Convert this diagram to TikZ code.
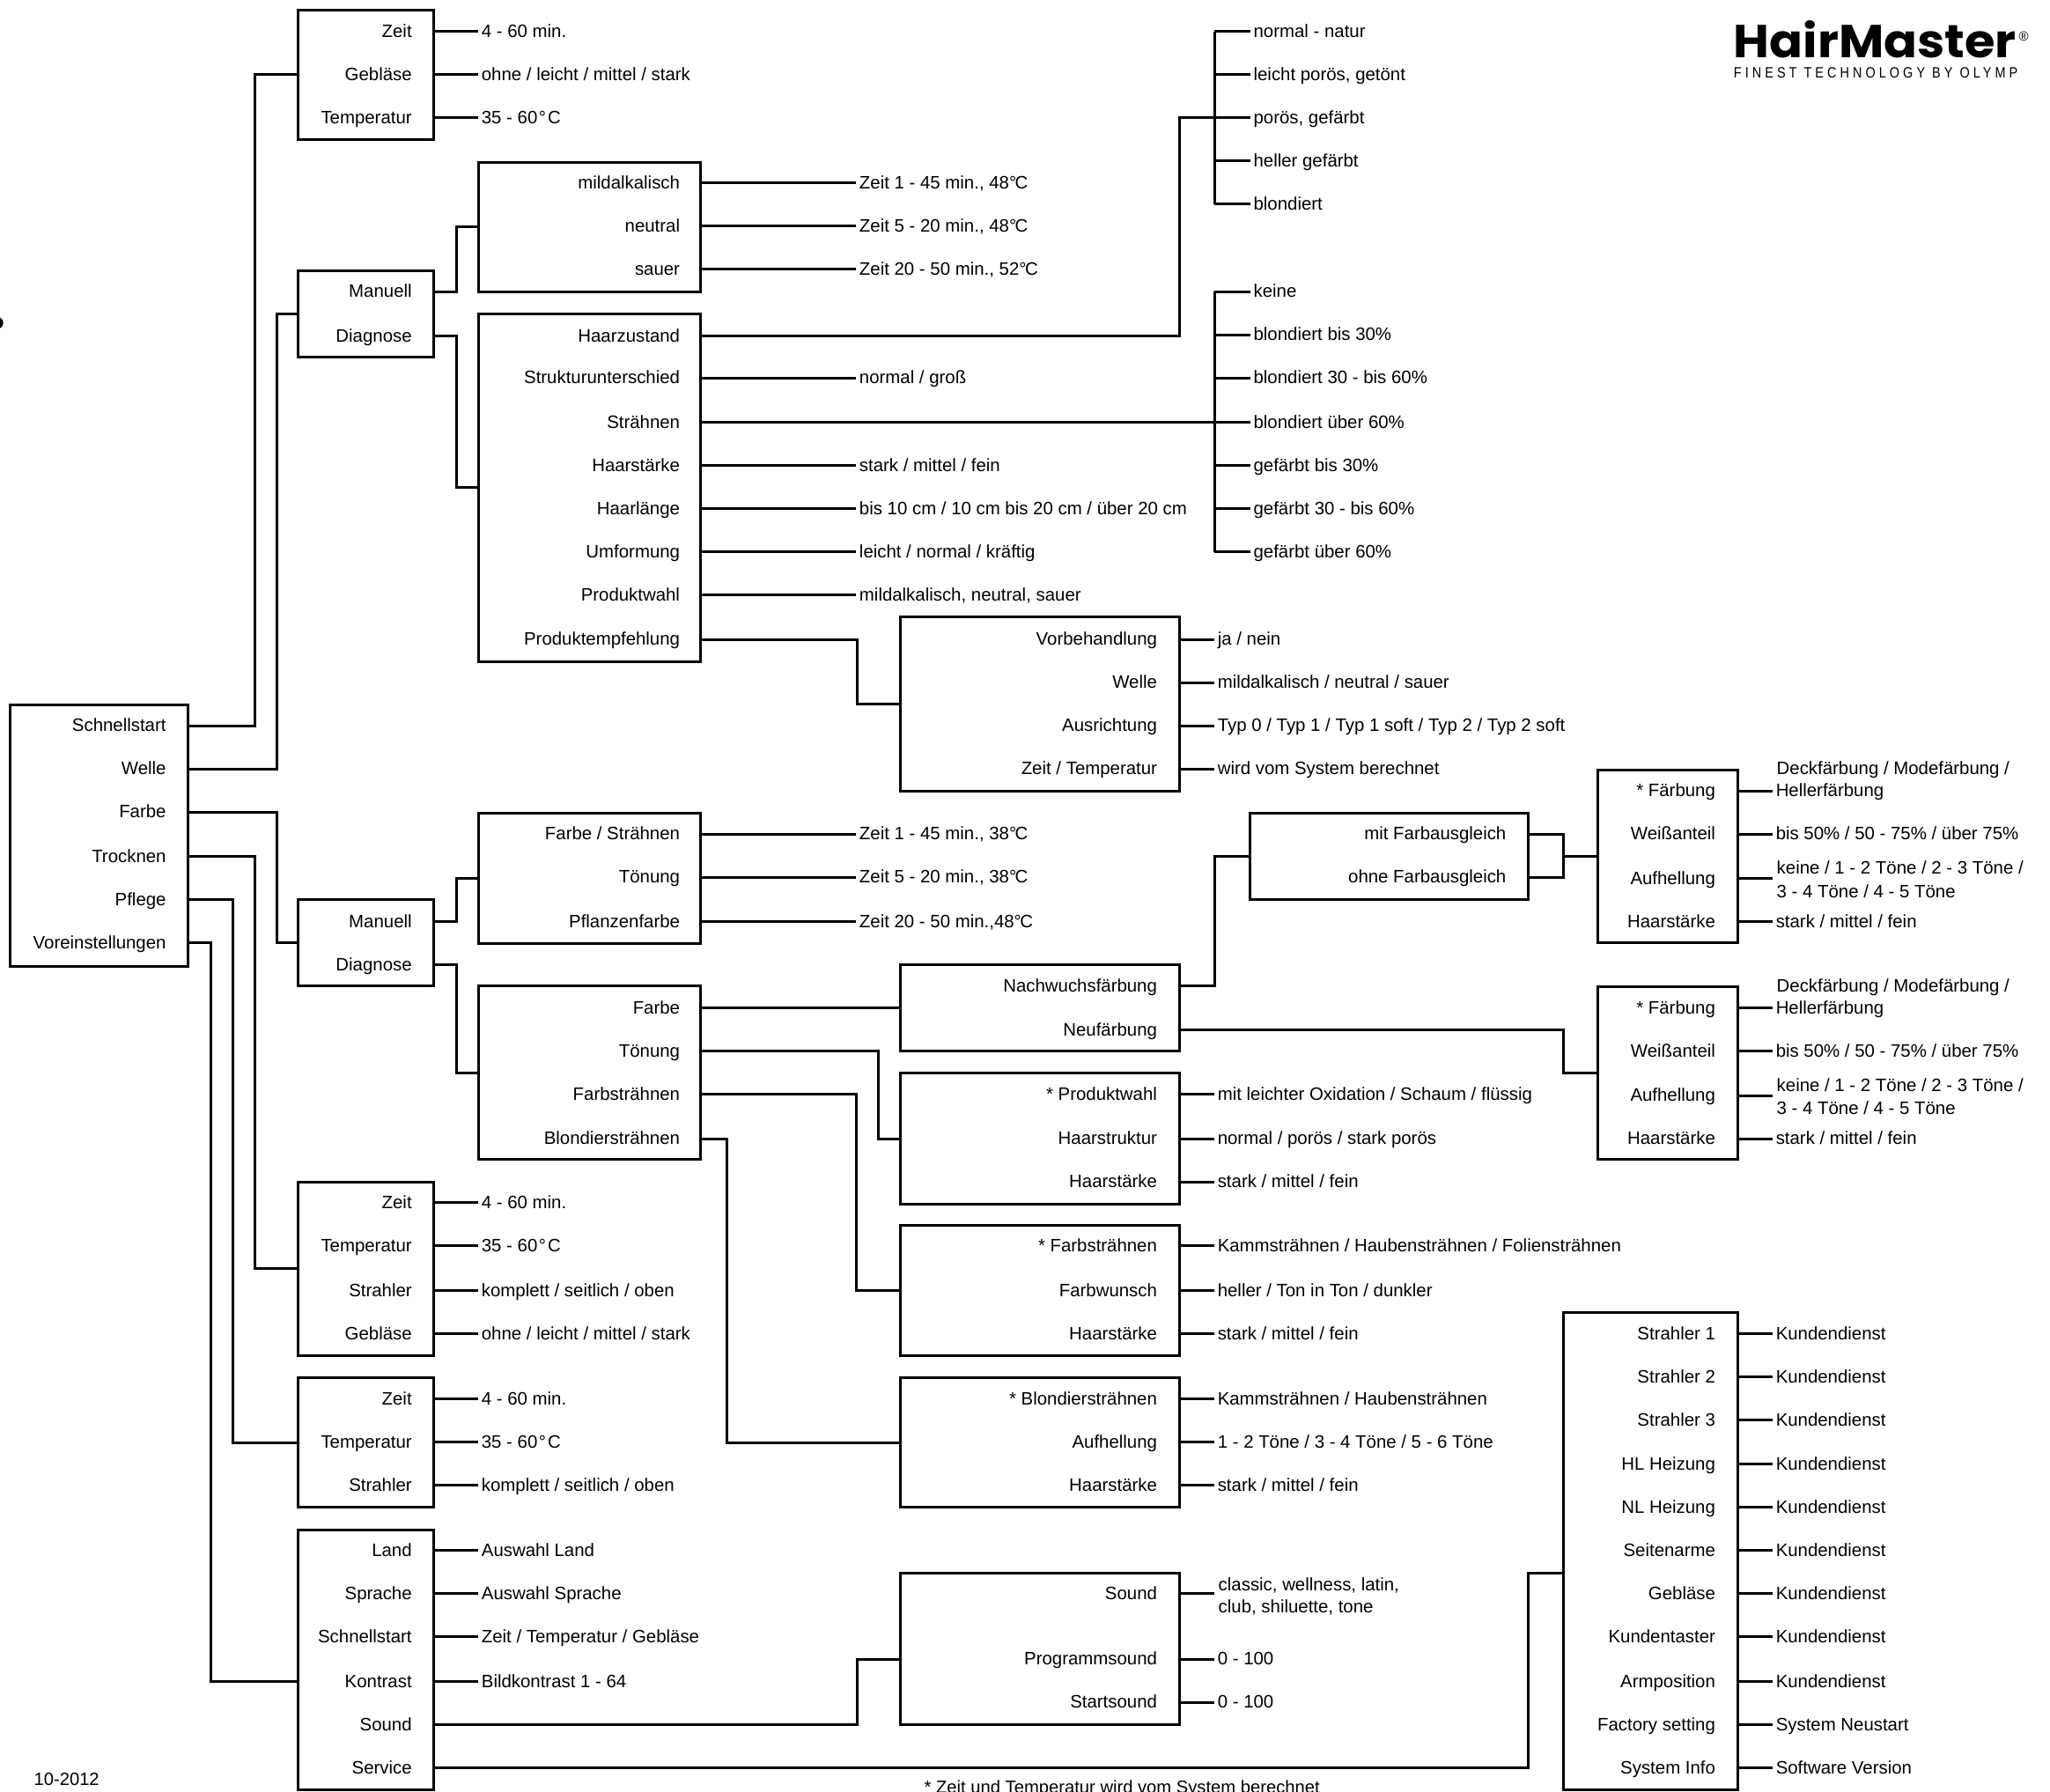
\documentclass[tikz,border=0pt]{standalone}
\usepackage{fontspec}
\usepackage{graphicx}
\setmainfont{Liberation Sans}
\newfontfamily\logofont{Poppins}
\usetikzlibrary{fit,calc}
\tikzset{
  base/.style={inner sep=0pt,outer sep=0pt,font=\fontsize{20.4}{24}\selectfont,text height=15pt,text depth=1.6pt},
  lbl/.style={base,anchor=east},
  vlu/.style={base,anchor=west,inner xsep=3.5pt},
  plain/.style={base,anchor=west,inner xsep=0pt},
  boxs/.style={draw,rectangle,line width=3pt,inner sep=0pt,outer sep=0pt,line join=miter},
  conn/.style={line width=3pt,line cap=butt,line join=miter},
}
\newcommand{\bx}[5]{\path (#2,#3) coordinate (#1a) (#4,#5) coordinate (#1b);
  \node[boxs,fit=(#1a)(#1b)] (#1) {};}
\newcommand{\lab}[3]{\node[lbl] (#1) at (\lx,#2) {#3};}
\newcommand{\itm}[5]{\node[lbl] (#1#2) at (\lx,#3) {#4};
  \node[vlu] (#1#2v) at (\vx,#3) {#5};
  \draw[conn] (#1.east |- #1#2) -- (#1#2v.west);}
\newcommand{\dgs}{\kern1.5pt°\kern2pt}
\newcommand{\degc}{°\kern-1.5pt C}
\begin{document}
\begin{tikzpicture}[x=1.4847pt,y=-1.4847pt]
\useasboundingbox (0,0) rectangle (1568,1370);
\fill (-2,247) circle (4.5);

% logo
\node[anchor=north west,inner sep=0pt,outer sep=0pt] (logo) at (1326,15.5) {\resizebox{321pt}{42pt}{\logofont\bfseries HairMaster}};
\node[anchor=west,inner sep=0pt,font=\fontsize{15}{16}\selectfont] (logor) at (1544,28) {®};
\node[anchor=west,inner sep=0pt,font=\fontsize{17}{18}\selectfont] (logot) at (1326,55.5) {\scalebox{.85}[1]{\addfontfeatures{LetterSpace=28}FINEST TECHNOLOGY BY OLYMP}};

% main menu
\def\lx{127}
\bx{M}{8}{539}{144}{739}
\lab{Mss}{555}{Schnellstart}
\lab{Mwe}{588}{Welle}
\lab{Mfa}{621}{Farbe}
\lab{Mtr}{655}{Trocknen}
\lab{Mpf}{688}{Pflege}
\lab{Mvo}{721}{Voreinstellungen}

% Schnellstart
\def\lx{315}\def\vx{366}
\bx{A}{228}{8}{332}{107}
\itm{A}{z}{24}{Zeit}{4 - 60 min.}
\itm{A}{g}{57}{Gebläse}{ohne / leicht / mittel / stark}
\itm{A}{t}{90}{Temperatur}{35 - 60\dgs C}
\draw[conn] (M.east |- Mss) -- (195,0 |- Mss) -- (195,0 |- Ag) -- (A.west |- Ag);

% Welle
\bx{B}{228}{207}{332}{273}
\lab{Bm}{223}{Manuell}
\lab{Bd}{257}{Diagnose}
\draw[conn] (M.east |- Mwe) -- (212,0 |- Mwe) -- (212,0 |- B.west) -- (B.west);

\def\lx{520}\def\vx{655}
\bx{C}{366}{124}{536}{223}
\itm{C}{a}{140}{mildalkalisch}{Zeit 1 - 45 min., 48\degc}
\itm{C}{b}{173}{neutral}{Zeit 5 - 20 min., 48\degc}
\itm{C}{c}{206}{sauer}{Zeit 20 - 50 min., 52\degc}
\draw[conn] (B.east |- Bm) -- (349,0 |- Bm) -- (349,0 |- C.west) -- (C.west);

\bx{D}{366}{240}{536}{506}
\lab{Dz}{257}{Haarzustand}
\itm{D}{s}{289}{Strukturunterschied}{normal / groß}
\lab{Dt}{323}{Strähnen}
\itm{D}{h}{356}{Haarstärke}{stark / mittel / fein}
\itm{D}{l}{389}{Haarlänge}{bis 10 cm / 10 cm bis 20 cm / über 20 cm}
\itm{D}{u}{422}{Umformung}{leicht / normal / kräftig}
\itm{D}{p}{455}{Produktwahl}{mildalkalisch, neutral, sauer}
\lab{De}{489}{Produktempfehlung}
\draw[conn] (B.east |- Bd) -- (349,0 |- Bd) -- (349,0 |- D.west) -- (D.west);

% Haarzustand tree
\foreach \n/\y/\t in {a/24/normal - natur,b/57/{leicht porös, getönt},c/90/{porös, gefärbt},d/123/heller gefärbt,e/156/blondiert}{
  \node[vlu] (Z\n) at (956.5,\y) {\t};
  \draw[conn] (929,\y) -- (Z\n.west);
}
\draw[conn] (929,0 |- Za) -- (929,0 |- Ze);
\draw[conn] (D.east |- Dz) -- (902,0 |- Dz) -- (902,0 |- Zc) -- (929,0 |- Zc);

% Strähnen tree
\foreach \n/\y/\t in {a/223/keine,b/256/blondiert bis 30\%,c/289/blondiert 30 - bis 60\%,d/323/blondiert über 60\%,e/356/gefärbt bis 30\%,f/389/gefärbt 30 - bis 60\%,g/422/gefärbt über 60\%}{
  \node[vlu] (Y\n) at (956.5,\y) {\t};
  \draw[conn] (929,\y) -- (Y\n.west);
}
\draw[conn] (929,0 |- Ya) -- (929,0 |- Yg);
\draw[conn] (D.east |- Dt) -- (Yd.west);

% Produktempfehlung
\def\lx{885}\def\vx{929}
\bx{E}{689}{472}{902}{605}
\itm{E}{a}{489}{Vorbehandlung}{ja / nein}
\itm{E}{b}{522}{Welle}{mildalkalisch / neutral / sauer}
\itm{E}{c}{555}{Ausrichtung}{Typ 0 / Typ 1 / Typ 1 soft / Typ 2 / Typ 2 soft}
\itm{E}{d}{588}{Zeit / Temperatur}{wird vom System berechnet}
\draw[conn] (D.east |- De) -- (656,0 |- De) -- (656,0 |- E.west) -- (E.west);

% Farbe
\def\lx{315}
\bx{F}{228}{688}{332}{754}
\lab{Fm}{705}{Manuell}
\lab{Fd}{738}{Diagnose}
\draw[conn] (M.east |- Mfa) -- (212,0 |- Mfa) -- (212,0 |- F.west) -- (F.west);

\def\lx{520}\def\vx{655}
\bx{G}{366}{622}{536}{722}
\itm{G}{a}{638}{Farbe / Strähnen}{Zeit 1 - 45 min., 38\degc}
\itm{G}{b}{671}{Tönung}{Zeit 5 - 20 min., 38\degc}
\itm{G}{c}{705}{Pflanzenfarbe}{Zeit 20 - 50 min.,48\degc}
\draw[conn] (F.east |- Fm) -- (349,0 |- Fm) -- (349,0 |- G.west) -- (G.west);

\bx{H}{366}{754}{536}{887}
\lab{Ha}{771}{Farbe}
\lab{Hb}{804}{Tönung}
\lab{Hc}{837}{Farbsträhnen}
\lab{Hd}{871}{Blondiersträhnen}
\draw[conn] (F.east |- Fd) -- (349,0 |- Fd) -- (349,0 |- H.west) -- (H.west);

\def\lx{885}
\bx{I}{689}{738}{902}{804}
\lab{In}{754}{Nachwuchsfärbung}
\lab{If}{788}{Neufärbung}
\draw[conn] (H.east |- Ha) -- (I.west |- Ha);

\def\lx{1152}
\bx{J}{956}{622}{1169}{688}
\lab{Jm}{638}{mit Farbausgleich}
\lab{Jo}{671}{ohne Farbausgleich}
\draw[conn] (I.east |- In) -- (929,0 |- In) -- (929,0 |- J.west) -- (J.west);

\def\lx{1312}\def\vx{1356}
\bx{K}{1222}{589}{1329}{721}
\lab{Kf}{605}{* Färbung}
\node[plain] (Kf0) at (1359,588) {Deckfärbung / Modefärbung /};
\node[vlu] (Kfv) at (1356,605) {Hellerfärbung};
\draw[conn] (K.east |- Kf) -- (Kfv.west);
\itm{K}{w}{638}{Weißanteil}{bis 50\% / 50 - 75\% / über 75\%}
\lab{Ka}{672}{Aufhellung}
\node[plain] (Ka1) at (1359,664) {keine / 1 - 2 Töne / 2 - 3 Töne /};
\node[plain] (Ka2) at (1359,682) {3 - 4 Töne / 4 - 5 Töne};
\coordinate (Kae) at (1356,672);
\draw[conn] (K.east |- Ka) -- (Kae);
\itm{K}{h}{705}{Haarstärke}{stark / mittel / fein}
\draw[conn] (J.east |- Jm) -- (1196,0 |- Jm) -- (1196,0 |- Jo) -- (J.east |- Jo);
\draw[conn] (1196,0 |- K.west) -- (K.west);

\bx{L}{1222}{755}{1329}{887}
\lab{Lf}{771}{* Färbung}
\node[plain] (Lf0) at (1359,754) {Deckfärbung / Modefärbung /};
\node[vlu] (Lfv) at (1356,771) {Hellerfärbung};
\draw[conn] (L.east |- Lf) -- (Lfv.west);
\itm{L}{w}{804}{Weißanteil}{bis 50\% / 50 - 75\% / über 75\%}
\lab{La}{838}{Aufhellung}
\node[plain] (La1) at (1359,830) {keine / 1 - 2 Töne / 2 - 3 Töne /};
\node[plain] (La2) at (1359,848) {3 - 4 Töne / 4 - 5 Töne};
\coordinate (Lae) at (1356,838);
\draw[conn] (L.east |- La) -- (Lae);
\itm{L}{h}{871}{Haarstärke}{stark / mittel / fein}
\draw[conn] (I.east |- If) -- (1196,0 |- If) -- (1196,0 |- L.west) -- (L.west);

\def\lx{885}\def\vx{929}
\bx{N}{689}{821}{902}{921}
\itm{N}{a}{837}{* Produktwahl}{mit leichter Oxidation / Schaum / flüssig}
\itm{N}{b}{871}{Haarstruktur}{normal / porös / stark porös}
\itm{N}{c}{904}{Haarstärke}{stark / mittel / fein}
\draw[conn] (H.east |- Hb) -- (672,0 |- Hb) -- (672,0 |- N.west) -- (N.west);

\bx{O}{689}{937}{902}{1037}
\itm{O}{a}{953}{* Farbsträhnen}{Kammsträhnen / Haubensträhnen / Foliensträhnen}
\itm{O}{b}{987}{Farbwunsch}{heller / Ton in Ton / dunkler}
\itm{O}{c}{1020}{Haarstärke}{stark / mittel / fein}
\draw[conn] (H.east |- Hc) -- (655,0 |- Hc) -- (655,0 |- O.west) -- (O.west);

\bx{Q}{689}{1054}{902}{1153}
\itm{Q}{a}{1070}{* Blondiersträhnen}{Kammsträhnen / Haubensträhnen}
\itm{Q}{b}{1103}{Aufhellung}{1 - 2 Töne / 3 - 4 Töne / 5 - 6 Töne}
\itm{Q}{c}{1136}{Haarstärke}{stark / mittel / fein}
\draw[conn] (H.east |- Hd) -- (556,0 |- Hd) -- (556,0 |- Q.west) -- (Q.west);

% Trocknen
\def\lx{315}\def\vx{366}
\bx{P}{228}{904}{332}{1037}
\itm{P}{a}{920}{Zeit}{4 - 60 min.}
\itm{P}{b}{953}{Temperatur}{35 - 60\dgs C}
\itm{P}{c}{987}{Strahler}{komplett / seitlich / oben}
\itm{P}{d}{1020}{Gebläse}{ohne / leicht / mittel / stark}
\draw[conn] (M.east |- Mtr) -- (195,0 |- Mtr) -- (195,0 |- P.west) -- (P.west);

% Pflege
\bx{R}{228}{1054}{332}{1153}
\itm{R}{a}{1070}{Zeit}{4 - 60 min.}
\itm{R}{b}{1103}{Temperatur}{35 - 60\dgs C}
\itm{R}{c}{1136}{Strahler}{komplett / seitlich / oben}
\draw[conn] (M.east |- Mpf) -- (178,0 |- Mpf) -- (178,0 |- R.west) -- (R.west);

% Voreinstellungen
\bx{S}{228}{1170}{332}{1369}
\itm{S}{a}{1186}{Land}{Auswahl Land}
\itm{S}{b}{1219}{Sprache}{Auswahl Sprache}
\itm{S}{c}{1252}{Schnellstart}{Zeit / Temperatur / Gebläse}
\itm{S}{d}{1286}{Kontrast}{Bildkontrast 1 - 64}
\lab{Se}{1319}{Sound}
\lab{Sf}{1352}{Service}
\draw[conn] (M.east |- Mvo) -- (161,0 |- Mvo) -- (161,0 |- Sd) -- (S.west |- Sd);

\def\lx{885}\def\vx{929}
\bx{U}{689}{1203}{902}{1319}
\lab{Ua}{1219}{Sound}
\node[plain] (Ua1) at (932,1212) {classic, wellness, latin,};
\node[plain] (Ua2) at (932,1229) {club, shiluette, tone};
\coordinate (Uae) at (929,1219);
\draw[conn] (U.east |- Ua) -- (Uae);
\itm{U}{b}{1269}{Programmsound}{0 - 100}
\itm{U}{c}{1302}{Startsound}{0 - 100}
\draw[conn] (S.east |- Se) -- (656,0 |- Se) -- (656,0 |- Ub) -- (U.west |- Ub);

\def\lx{1312}\def\vx{1356}
\bx{T}{1196}{1004}{1329}{1369}
\itm{T}{a}{1020}{Strahler 1}{Kundendienst}
\itm{T}{b}{1053}{Strahler 2}{Kundendienst}
\itm{T}{c}{1086}{Strahler 3}{Kundendienst}
\itm{T}{d}{1120}{HL Heizung}{Kundendienst}
\itm{T}{e}{1153}{NL Heizung}{Kundendienst}
\itm{T}{f}{1186}{Seitenarme}{Kundendienst}
\itm{T}{g}{1219}{Gebläse}{Kundendienst}
\itm{T}{h}{1252}{Kundentaster}{Kundendienst}
\itm{T}{i}{1286}{Armposition}{Kundendienst}
\itm{T}{j}{1319}{Factory setting}{System Neustart}
\itm{T}{k}{1352}{System Info}{Software Version}
\coordinate (Tin) at (1196,1203);
\draw[conn] (S.east |- Sf) -- (1169,0 |- Sf) -- (1169,0 |- Tin) -- (Tin);

% footer
\node[plain,font=\fontsize{20.2}{24}\selectfont] (date) at (26,1361) {10-2012};
\node[plain,font=\fontsize{20.2}{24}\selectfont] (note) at (707,1367) {* Zeit und Temperatur wird vom System berechnet};
\end{tikzpicture}
\end{document}
